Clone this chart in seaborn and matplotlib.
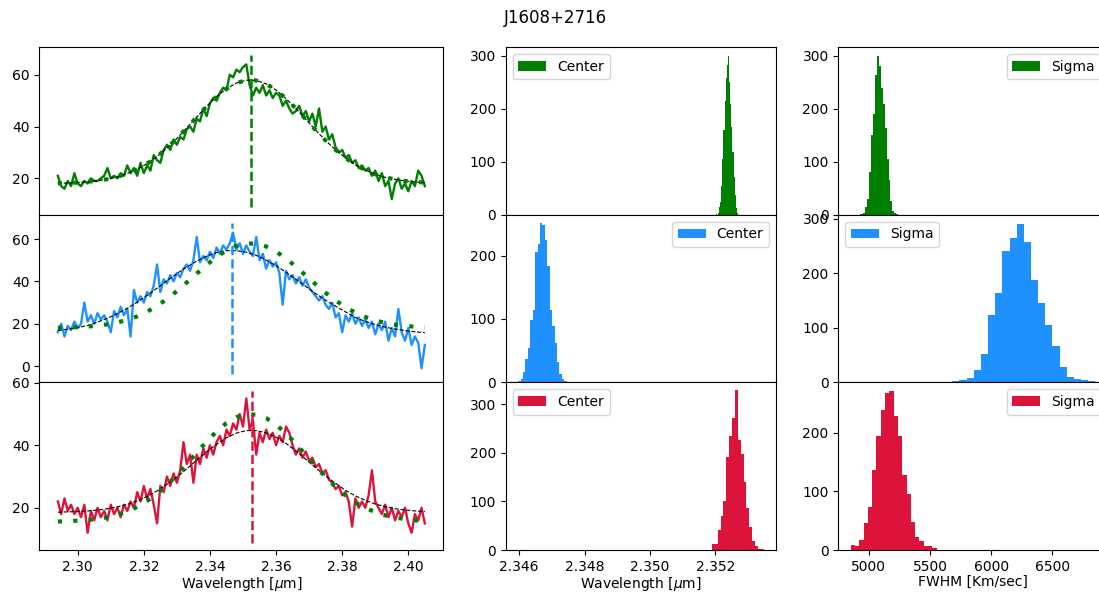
import numpy as np
import matplotlib
matplotlib.use("Agg")
import matplotlib.pyplot as plt
import seaborn as sns

# ---- spectra (flux, 0.001 um grid) ----
wave = np.linspace(2.294, 2.405, 112)

flux_green = [21, 17, 16, 19, 17, 22, 18, 17, 19, 18,
              20, 19, 19, 20, 21, 24, 20, 21, 20, 22,
              21, 25, 22, 24, 21, 26, 22, 25, 23, 29,
              27, 26, 31, 33, 31, 35, 33, 36, 35, 39,
              40, 38, 43, 42, 47, 44, 49, 51, 50, 53,
              55, 54, 60, 59, 62, 61, 63, 64, 56, 52,
              55, 53, 56, 52, 54, 51, 53, 52, 48, 50,
              47, 45, 46, 48, 44, 46, 42, 45, 40, 47,
              38, 40, 35, 37, 32, 30, 31, 28, 29, 26,
              27, 24, 25, 23, 24, 21, 23, 19, 22, 17,
              19, 12, 18, 20, 16, 18, 15, 19, 17, 23,
              21, 17]

flux_blue = [16, 20, 14, 19, 17, 21, 18, 20, 30, 21,
             24, 20, 25, 22, 24, 21, 16, 26, 23, 28,
             24, 27, 14, 36, 30, 33, 30, 35, 33, 38,
             48, 35, 41, 39, 43, 40, 44, 42, 46, 48,
             45, 50, 61, 49, 52, 50, 54, 51, 56, 53,
             57, 55, 58, 63, 55, 58, 53, 57, 54, 52,
             61, 50, 53, 46, 50, 47, 49, 44, 29, 45,
             41, 43, 39, 42, 38, 41, 37, 35, 33, 31,
             33, 29, 27, 30, 23, 25, 16, 24, 21, 25,
             20, 23, 19, 22, 18, 21, 15, 20, 17, 21,
             12, 18, 14, 27, 16, 12, 18, 10, 14, 11,
             -1, 10]

flux_red = [22, 18, 23, 19, 21, 18, 20, 17, 21, 12,
            19, 16, 20, 17, 19, 16, 21, 18, 20, 17,
            21, 19, 22, 20, 25, 22, 27, 23, 26, 21,
            15, 27, 25, 30, 27, 31, 28, 32, 41, 34,
            37, 28, 37, 34, 39, 36, 40, 37, 41, 43,
            40, 45, 43, 47, 45, 50, 46, 55, 45, 48,
            37, 44, 41, 45, 42, 44, 40, 43, 41, 46,
            44, 40, 37, 39, 36, 38, 35, 36, 33, 34,
            31, 32, 29, 28, 26, 27, 24, 25, 22, 14,
            23, 20, 22, 20, 24, 32, 22, 20, 18, 21,
            17, 20, 16, 19, 17, 20, 15, 12, 18, 16,
            20, 15]

# ---- fitted profiles ----
fit_wave = np.linspace(2.294, 2.405, 38)
fit_green = [18.1, 18.2, 18.4, 18.7, 19.1, 19.7, 20.6, 21.9, 23.5, 25.7,
             28.4, 31.7, 35.4, 39.5, 43.7, 47.8, 51.6, 54.6, 56.8, 57.9,
             57.8, 56.5, 54.1, 50.8, 47.0, 42.8, 38.6, 34.6, 31.0, 27.9,
             25.2, 23.2, 21.6, 20.4, 19.6, 19.0, 18.6, 18.4]
fit_blue = [16.8, 17.4, 18.2, 19.2, 20.8, 22.6, 24.8, 27.3, 30.2, 33.4,
            36.8, 40.3, 43.7, 46.8, 49.6, 51.9, 53.6, 54.5, 54.5, 53.8,
            52.3, 50.1, 47.4, 44.3, 41.0, 37.6, 34.2, 31.1, 28.3, 25.6,
            23.0, 21.1, 19.6, 18.4, 17.5, 16.8, 16.2, 15.8]
fit_red = [18.6, 18.7, 18.8, 19.0, 19.3, 19.7, 20.3, 21.1, 22.2, 23.6,
           25.4, 27.5, 29.8, 32.5, 35.2, 37.9, 40.3, 42.4, 43.9, 44.7,
           44.7, 44.0, 42.6, 40.6, 38.2, 35.5, 32.8, 30.2, 27.8, 25.6,
           23.8, 22.4, 21.2, 20.4, 19.7, 19.3, 19.0, 18.8]
# reference (first epoch) model as drawn on each panel
ref_model = [fit_green,
             fit_green,
             [15.6, 15.7, 15.9, 16.1, 16.4, 17.0, 17.8, 18.8, 20.3, 22.2,
              24.5, 27.3, 30.5, 34.0, 37.6, 41.2, 44.4, 47.1, 49.0, 49.9,
              49.8, 48.7, 46.6, 43.8, 40.5, 36.9, 33.3, 29.8, 26.7, 24.0,
              21.7, 20.0, 18.6, 17.6, 16.9, 16.4, 16.0, 15.8]]

line_center = [2.3524, 2.3468, 2.3527]
line_lo = [8.9, -3.9, 8.7]
line_hi = [67.5, 67.6, 57.4]

# ---- MCMC posteriors (20 bins each) ----
center_range = [(2.35201, 2.35270), (2.34597, 2.347454), (2.351724, 2.353482)]
center_counts = [
    [1, 0, 3, 15, 25, 55, 105, 160, 215, 258, 283, 300, 250, 210, 165, 118, 72, 38, 13, 4],
    [2, 5, 16, 37, 55, 98, 114, 205, 218, 251, 248, 225, 184, 114, 89, 62, 33, 14, 5, 3],
    [1, 0, 12, 12, 42, 71, 100, 191, 234, 272, 329, 226, 198, 140, 86, 47, 19, 9, 2, 3],
]
sigma_range = [(4924, 5239), (5682, 6850), (4851, 5554)]
sigma_counts = [
    [1, 1, 4, 15, 30, 80, 150, 191, 264, 300, 280, 240, 210, 163, 106, 65, 27, 8, 3, 1],
    [2, 4, 8, 23, 52, 123, 163, 240, 265, 291, 257, 187, 145, 105, 66, 29, 10, 7, 5, 2],
    [9, 7, 17, 46, 73, 137, 195, 239, 268, 271, 229, 194, 128, 95, 47, 22, 15, 7, 7, 3],
]

colors = ["green", "dodgerblue", "crimson"]
fluxes = [flux_green, flux_blue, flux_red]
fits = [fit_green, fit_blue, fit_red]

spec_ylim = [(5.9, 70.6), (-7.7, 71.4), (6.5, 60.1)]
spec_yticks = [[20, 40, 60], [0, 20, 40, 60], [20, 40, 60]]
cen_ylim = [(0, 316), (0, 264), (0, 345)]
cen_yticks = [[0, 100, 200, 300], [0, 100, 200], [0, 100, 200, 300]]
sig_ylim = [(0, 316), (0, 307), (0, 286)]
sig_yticks = [[0, 100, 200, 300], [0, 100, 200, 300], [0, 100, 200]]
cen_loc = ["upper left", "upper right", "upper left"]
sig_loc = ["upper right", "upper left", "upper right"]


fig = plt.figure(figsize=(10.99, 5.93), dpi=100)
gs = fig.add_gridspec(3, 3, width_ratios=[404, 270, 269],
                      left=0.0358, right=1.0077, bottom=0.0725, top=0.9202,
                      wspace=0.199, hspace=0)
axes = np.empty((3, 3), dtype=object)
for r in range(3):
    for c in range(3):
        share = axes[0, c] if r > 0 else None
        axes[r, c] = fig.add_subplot(gs[r, c], sharex=share)


def draw_hist(ax, lo, hi, counts, color, label, loc):
    step = (hi - lo) / len(counts)
    mids = lo + step * (np.arange(len(counts)) + 0.5)
    sns.histplot(x=mids, weights=np.asarray(counts, dtype=float),
                 bins=len(counts), binrange=(lo, hi), color=color, alpha=1,
                 linewidth=0, ax=ax, label=label)
    ax.legend(loc=loc)
    ax.set_ylabel("")


for r in range(3):
    ax = axes[r, 0]
    sns.lineplot(x=wave, y=fluxes[r], color=colors[r], lw=1.7,
                 estimator=None, ax=ax)
    sns.lineplot(x=fit_wave, y=fits[r], color="black", lw=0.8,
                 linestyle="--", estimator=None, ax=ax)
    sns.lineplot(x=fit_wave, y=ref_model[r], color="green", lw=3,
                 linestyle=(0, (1.0, 2.7)), estimator=None, ax=ax)
    ax.vlines(line_center[r], line_lo[r], line_hi[r], colors=colors[r],
              linestyles="--", lw=1.8)
    ax.set_xlim(2.2884, 2.4106)
    ax.set_ylim(*spec_ylim[r])
    ax.set_yticks(spec_yticks[r])

    ax = axes[r, 1]
    draw_hist(ax, *center_range[r], center_counts[r], colors[r], "Center", cen_loc[r])
    ax.set_xlim(2.345594, 2.353858)
    ax.set_ylim(*cen_ylim[r])
    ax.set_yticks(cen_yticks[r])

    ax = axes[r, 2]
    draw_hist(ax, *sigma_range[r], sigma_counts[r], colors[r], "Sigma", sig_loc[r])
    ax.set_xlim(4751, 6950)
    ax.set_ylim(*sig_ylim[r])
    ax.set_yticks(sig_yticks[r])

for r in range(3):
    for c in range(3):
        ax = axes[r, c]
        ax.set_ylabel("")
        ax.set_xlabel("")
        if r < 2:
            ax.tick_params(labelbottom=False)

axes[2, 1].set_xticks([2.346, 2.348, 2.350, 2.352])
axes[2, 2].set_xticks([5000, 5500, 6000, 6500])
axes[2, 0].set_xlabel(r"Wavelength [$\mu$m]", labelpad=1)
axes[2, 1].set_xlabel(r"Wavelength [$\mu$m]", labelpad=1)
axes[2, 2].set_xlabel("FWHM [Km/sec]", labelpad=1)

fig.suptitle("J1608+2716", x=0.505, y=0.97, va="center", fontsize=12)

fig.savefig("out.png", dpi=100)
